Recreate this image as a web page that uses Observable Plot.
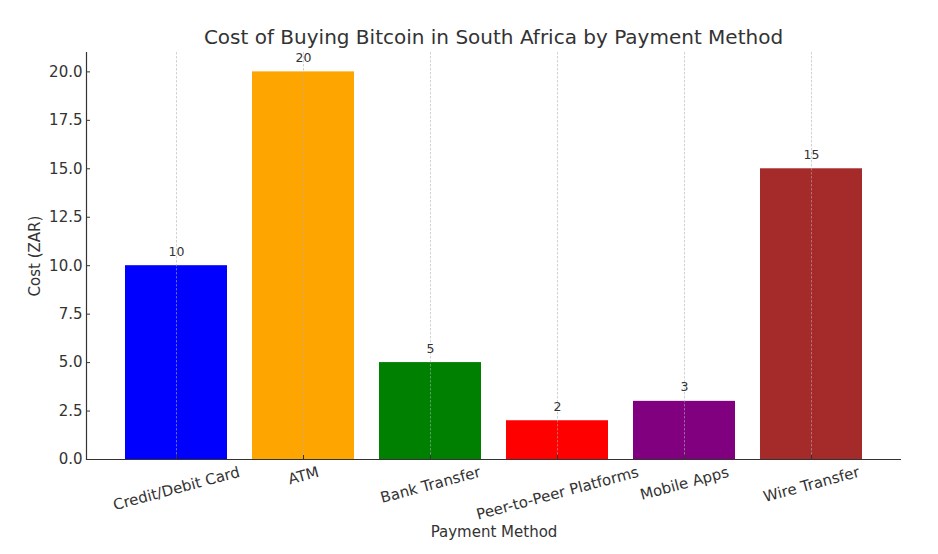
<!DOCTYPE html>
<html><head><meta charset="utf-8">
<script src="https://cdn.jsdelivr.net/npm/d3@7"></script>
<script src="https://cdn.jsdelivr.net/npm/@observablehq/plot@0.6"></script>
<style>
body{margin:0;background:#fff;font-family:"DejaVu Sans",sans-serif;}
#title{height:48px;box-sizing:border-box;padding:25px 37px 0 86px;text-align:center;font-size:20px;line-height:24px;color:#333;white-space:nowrap;}
</style></head><body>
<div id="title">Cost of Buying Bitcoin in South Africa by Payment Method</div>
<div id="chart"></div>
<script>
const methods = ["Credit/Debit Card","ATM","Bank Transfer","Peer-to-Peer Platforms","Mobile Apps","Wire Transfer"];
const costs = [10,20,5,2,3,15];
const colors = ["#0000ff","#ffa500","#008000","#ff0000","#800080","#a52a2a"];
const yTicks = [0,2.5,5,7.5,10,12.5,15,17.5,20];
const xLabel = "Payment Method";
const yLabel = "Cost (ZAR)";

const data = methods.map((m,i)=>({method:m,cost:costs[i],color:colors[i]}));

const ctx = document.createElement("canvas").getContext("2d");
ctx.font = '15px "DejaVu Sans"';
const rot = 15*Math.PI/180;
const labelMarks = methods.map(m => {
  const w = ctx.measureText(m).width;
  const hh = 15*1.15;
  const dy = 4 + (w*Math.sin(rot) + hh*Math.cos(rot))/2;
  return Plot.text([m], {x: d=>d, frameAnchor:"bottom", dy, rotate:-15, text:d=>d, textAnchor:"middle", lineAnchor:"middle", fontSize:15, fill:"#333"});
});

const chart = Plot.plot({
  width: 938, height: 506,
  marginTop: 4, marginBottom: 95, marginLeft: 86, marginRight: 37,
  style: {fontFamily: '"DejaVu Sans", sans-serif', color:"#333", background:"#fff"},
  x: {type:"band", domain: methods, paddingInner: 0.2, paddingOuter: 0.29, axis: null},
  y: {domain: [0,21], axis: null},
  marks: [
    Plot.barY(data, {x:"method", y:"cost", fill:"color"}),
    Plot.gridX(methods, {stroke:"#b0b0b0", strokeOpacity:0.7, strokeDasharray:"2.5,1.5", strokeWidth:0.8}),
    Plot.axisY(yTicks, {tickSize:0, tickPadding:4, tickFormat:d3.format(".1f"), fontSize:15, fill:"#333", label:null}),
    Plot.axisY(yTicks, {tickSize:-4, tickFormat:()=>"" , stroke:"#333", label:null}),
    Plot.axisX(methods, {tickSize:-4, tickFormat:()=>"", stroke:"#333", label:null}),
    Plot.text(data, {x:"method", y:"cost", text:d=>String(d.cost), dy:-14, fontSize:12.5, fill:"#333"}),
    ...labelMarks,
    Plot.frame({anchor:"left", stroke:"#333", strokeWidth:1.2}),
    Plot.ruleY([0], {stroke:"#333", strokeWidth:1.2}),
    Plot.text([xLabel], {frameAnchor:"bottom", dy:73, text:d=>d, lineAnchor:"middle", fontSize:15, fill:"#333"}),
    Plot.text([yLabel], {frameAnchor:"left", dx:-51, rotate:-90, text:d=>d, textAnchor:"middle", lineAnchor:"middle", fontSize:15, fill:"#333"})
  ]
});
document.getElementById("chart").appendChild(chart);
</script>
</body></html>
